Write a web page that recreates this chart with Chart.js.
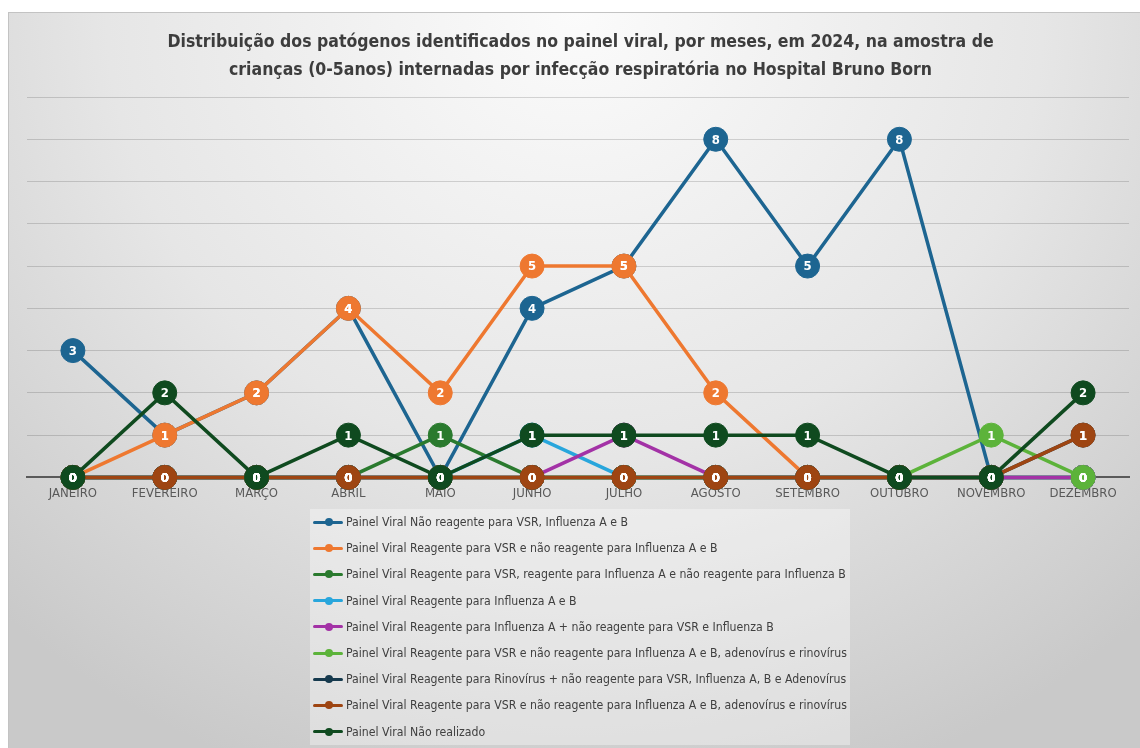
<!DOCTYPE html>
<html lang="pt-BR">
<head>
<meta charset="utf-8">
<title>Painel viral 2024</title>
<script src="https://cdn.jsdelivr.net/npm/chart.js@4.4.1/dist/chart.umd.min.js"></script>
<style>
  html, body { margin: 0; padding: 0; background: #fff; overflow: hidden; }
  #frame {
    position: absolute; left: 8px; top: 12px; width: 1134px; height: 740px;
    background: radial-gradient(ellipse 75% 110% at 50% 0%, #fbfbfb 0%, #e6e6e6 55%, #c9c9c9 100%);
    box-shadow: inset 0 0 0 1px #c3c3c3;
  }
  #chart { position: absolute; left: 0; top: 0; }
  #legend {
    position: absolute; left: 302px; top: 497px; width: 540px; height: 236px;
    background: rgba(255,255,255,0.35);
    font-family: 'Liberation Sans Narrow', 'DejaVu Sans Condensed', sans-serif;
    font-size: 12.2px; color: #404040;
  }
  .item { height: 26.2px; line-height: 26.2px; white-space: nowrap; position: relative; padding-left: 36px; }
  .item .swatch { position: absolute; left: 3px; top: 11.6px; width: 30px; height: 3px; border-radius: 2px; }
  .item .dot { position: absolute; left: 11.5px; top: -2.5px; width: 8px; height: 8px; border-radius: 50%; }
</style>
</head>
<body>
<div id="frame">
  <canvas id="chart" width="1134" height="500"></canvas>
  <div id="legend"></div>
</div>
<script>
const meses = ["JANEIRO", "FEVEREIRO", "MARÇO", "ABRIL", "MAIO", "JUNHO", "JULHO", "AGOSTO", "SETEMBRO", "OUTUBRO", "NOVEMBRO", "DEZEMBRO"];

const naoReagente   = [3, 1, 2, 4, 0, 4, 5, 8, 5, 8, 0, 0];
const vsr           = [0, 1, 2, 4, 2, 5, 5, 2, 0, 0, 0, 0];
const vsrInfA       = [0, 0, 0, 0, 1, 0, 0, 0, 0, 0, 0, 0];
const infAB         = [0, 0, 0, 0, 0, 1, 0, 0, 0, 0, 0, 0];
const infA          = [0, 0, 0, 0, 0, 0, 1, 0, 0, 0, 0, 0];
const vsrAdeno      = [0, 0, 0, 0, 0, 0, 0, 0, 0, 0, 1, 0];
const rinovirus     = [0, 0, 0, 0, 0, 0, 0, 0, 0, 0, 0, 1];
const vsrAdeno2     = [0, 0, 0, 0, 0, 0, 0, 0, 0, 0, 0, 1];
const naoRealizado  = [0, 2, 0, 1, 0, 1, 1, 1, 1, 0, 0, 2];

const nomes = [
  "Painel Viral  Não reagente para VSR, Influenza A e B",
  "Painel Viral  Reagente para VSR e não reagente para Influenza A e B",
  "Painel Viral  Reagente para VSR, reagente para Influenza A e não reagente para Influenza B",
  "Painel Viral  Reagente para Influenza A e B",
  "Painel Viral  Reagente para Influenza A + não reagente para VSR e Influenza B",
  "Painel Viral  Reagente para VSR e não reagente para Influenza A e B, adenovírus e rinovírus",
  "Painel Viral  Reagente para Rinovírus + não reagente para VSR, Influenza A, B e Adenovírus",
  "Painel Viral  Reagente para VSR e não reagente para Influenza A e B, adenovírus e rinovírus",
  "Painel Viral  Não realizado"
];
const series = [naoReagente, vsr, vsrInfA, infAB, infA, vsrAdeno, rinovirus, vsrAdeno2, naoRealizado];
const cores = ["#1d6591", "#ee7830", "#2a7a2e", "#28a6dc", "#a332a6", "#5cb33a", "#163a4e", "#9e4512", "#0f4a1f"];

const narrow = "'Liberation Sans Narrow', 'DejaVu Sans Condensed', sans-serif";

// numbers inside the markers, like Excel data labels
const valueLabels = {
  id: "valueLabels",
  afterDatasetsDraw(chart) {
    const ctx = chart.ctx;
    ctx.save();
    ctx.font = "bold 13px " + narrow;
    ctx.fillStyle = "#ffffff";
    ctx.textAlign = "center";
    ctx.textBaseline = "middle";
    chart.data.datasets.forEach((ds, i) => {
      chart.getDatasetMeta(i).data.forEach((pt, j) => {
        ctx.fillText(String(ds.data[j]), pt.x, pt.y + 1);
      });
    });
    ctx.restore();
  }
};

const datasets = series.map((vals, i) => ({
  label: nomes[i],
  data: vals,
  borderColor: cores[i],
  backgroundColor: cores[i],
  borderWidth: 3.5,
  pointRadius: 12,
  pointBorderWidth: 1,
  pointHoverRadius: 12,
  pointBackgroundColor: cores[i],
  pointBorderColor: cores[i],
  tension: 0,
  clip: false,
  order: series.length - i   // later series on top, as in the original
}));

new Chart(document.getElementById("chart"), {
  type: "line",
  data: { labels: meses, datasets },
  options: {
    responsive: false,
    animation: false,
    devicePixelRatio: 1,
    layout: { padding: { left: 19, right: 8, top: 0, bottom: 3 } },
    plugins: {
      legend: { display: false },
      tooltip: { enabled: false },
      title: {
        display: true,
        text: [
          "Distribuição dos patógenos identificados no painel viral, por meses, em 2024, na amostra de",
          "crianças (0-5anos) internadas por infecção respiratória no Hospital Bruno Born"
        ],
        color: "#3d3d3d",
        font: { family: narrow, size: 17.5, weight: "bold", lineHeight: "28px" },
        padding: { top: 16, bottom: 13 }
      }
    },
    scales: {
      x: {
        offset: true,
        grid: { display: false, drawTicks: false },
        border: { color: "#5a5a5a", width: 2 },
        ticks: { color: "#595959", font: { family: narrow, size: 13 }, padding: 8, maxRotation: 0, autoSkip: false }
      },
      y: {
        min: 0,
        max: 9,
        ticks: { display: false, stepSize: 1 },
        grid: { color: "rgba(0,0,0,0.15)", lineWidth: 1, drawTicks: false },
        border: { display: false }
      }
    }
  },
  plugins: [valueLabels]
});

// legend as a single column, like the original
const legendEl = document.getElementById("legend");
nomes.forEach((nome, i) => {
  const row = document.createElement("div");
  row.className = "item";
  row.innerHTML = `<span class="swatch" style="background:${cores[i]}"><span class="dot" style="background:${cores[i]}"></span></span>${nome}`;
  legendEl.appendChild(row);
});
</script>
</body>
</html>
